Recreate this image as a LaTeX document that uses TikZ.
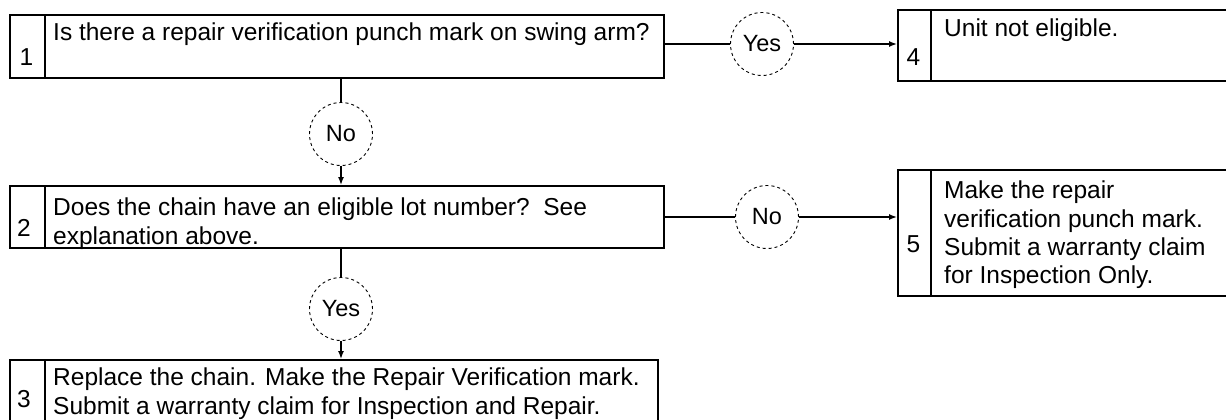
\documentclass[tikz,border=0pt]{standalone}
\usepackage{fontspec}
\setmainfont{Liberation Sans}
\usepackage{tikz}
\usetikzlibrary{arrows.meta}
\newcommand{\boxfont}{\fontsize{24.5}{28.2}\selectfont}
\newcommand{\askfont}{\fontsize{23.5}{26}\selectfont}

\begin{document}
\begin{tikzpicture}
  [
    x=1pt, y=-1pt,
    frame/.style={
       draw=black,
       line width=2.2pt,
       inner sep=0pt,
       anchor=north west
    },
    idx/.style={
       font=\boxfont,
       inner sep=0pt,
       anchor=base
    },
    txt/.style={
       font=\boxfont,
       inner sep=0pt,
       align=left,
       anchor=north west
    },
    ask/.style={
       circle,
       draw=black,
       dashed,
       line width=0.9pt,
       minimum size=63pt,
       inner sep=0pt,
       font=\askfont
    },
    link/.style={
       draw=black,
       line width=1.4pt
    },
    go/.style={
       link,
       -{Latex[length=8pt,width=6pt]}
    }
  ]
  \useasboundingbox (0,0) rectangle (1226,420);

  % left column
  \node (cell1) at (  9, 14) [frame, minimum width=35pt,  minimum height=63pt]  {};
  \node (box1)  at ( 44, 14) [frame, minimum width=619pt, minimum height=63pt]  {};
  \node (cell2) at (  9,185) [frame, minimum width=35pt,  minimum height=62pt]  {};
  \node (box2)  at ( 44,185) [frame, minimum width=619pt, minimum height=62pt]  {};
  \node (cell3) at (  9,359) [frame, minimum width=35pt,  minimum height=80pt]  {};
  \node (box3)  at ( 44,359) [frame, minimum width=613pt, minimum height=80pt]  {};

  % right column
  \node (cell4) at (897,  9) [frame, minimum width=33pt,  minimum height=71pt]  {};
  \node (box4)  at (930,  9) [frame, minimum width=330pt, minimum height=71pt]  {};
  \node (cell5) at (897,169) [frame, minimum width=33pt,  minimum height=126pt] {};
  \node (box5)  at (930,169) [frame, minimum width=330pt, minimum height=126pt] {};

  \node (n1) at ( 26.5, 66) [idx] {1};
  \node (n2) at ( 24,  236) [idx] {2};
  \node (n3) at ( 24,  407) [idx] {3};
  \node (n4) at (913.5, 66) [idx] {4};
  \node (n5) at (913.5,252) [idx] {5};

  \node (t1) at ( 53, 23) [txt] {Is there a repair verification punch mark on swing arm?};
  \node (t2) at ( 53,198) [txt] {Does the chain have an eligible lot number?\ \ See\\explanation above.};
  \node (t3) at ( 53,368) [txt] {Replace the chain. Make the Repair Verification mark.\\Submit a warranty claim for Inspection and Repair.};
  \node (t4) at (944, 19) [txt] {Unit not eligible.};
  \node (t5) at (944,181) [txt] {Make the repair\\verification punch mark.\\Submit a warranty claim\\for Inspection Only.};

  \node (yes1) at (762, 44) [ask] {Yes};
  \node (no1)  at (341,134) [ask] {No};
  \node (no2)  at (767,217) [ask] {No};
  \node (yes2) at (341,309) [ask] {Yes};

  \draw [link] (yes1 -| box1.east) -- (yes1);
  \draw [go]   (yes1) -- (yes1 -| cell4.west);
  \draw [link] (no1 |- box1.south) -- (no1);
  \draw [go]   (no1) -- (no1 |- box2.north);
  \draw [link] (no2 -| box2.east) -- (no2);
  \draw [go]   (no2) -- (no2 -| cell5.west);
  \draw [link] (yes2 |- box2.south) -- (yes2);
  \draw [go]   (yes2) -- (yes2 |- box3.north);
\end{tikzpicture}
\end{document}
